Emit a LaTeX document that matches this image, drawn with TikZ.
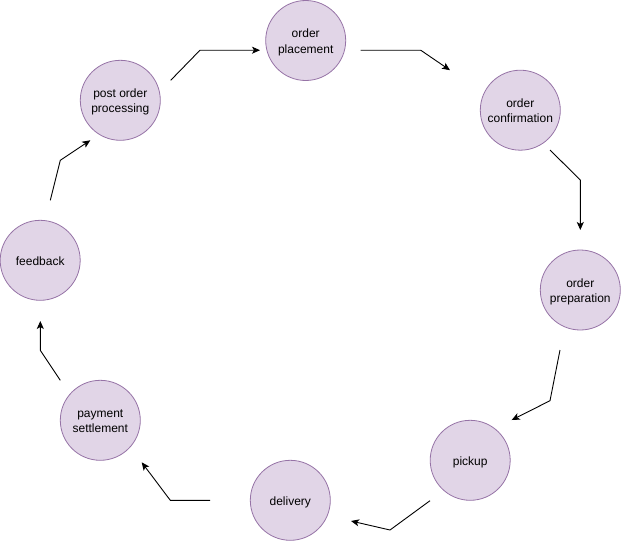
\documentclass[tikz,border=0pt]{standalone}
\usepackage{fontspec}
\setmainfont{Liberation Sans}
\usetikzlibrary{arrows.meta}
\definecolor{stepfill}{HTML}{E1D5E7}
\definecolor{stepline}{HTML}{9673A6}
% centred label, set slightly below the middle of its circle
\newcommand\stagetext[1]{\raisebox{-1.8pt}[\height][\depth]{\begin{tabular}{@{}c@{}}#1\end{tabular}}}
\begin{document}
\begin{tikzpicture}[x=1pt,y=-1pt,
  stage/.style={circle,draw=stepline,fill=stepfill,line width=0.8pt,
    minimum size=80pt,inner sep=0pt,
    font=\fontsize{12}{15.5}\selectfont},
  flow/.style={line width=0.9pt,-{Stealth[length=8pt,width=7pt,inset=2pt]}}]
\useasboundingbox (0,0) rectangle (621,541);

% process stages
\node[stage] (place)   at (305.7,40.5)  {\stagetext{order\\placement}};
\node[stage] (confirm) at (520.3,110.2) {\stagetext{order\\confirmation}};
\node[stage] (prep)    at (580.3,290)   {\stagetext{order\\preparation}};
\node[stage] (pickup)  at (470.2,460.3) {\stagetext{pickup}};
\node[stage] (deliv)   at (290.3,500.3) {\stagetext{delivery}};
\node[stage] (pay)     at (100.3,420.3) {\stagetext{payment\\settlement}};
\node[stage] (fb)      at (40.2,260.3)  {\stagetext{feedback}};
\node[stage] (post)    at (120.3,100.3) {\stagetext{post order\\processing}};

% connector end points
\coordinate (a1) at (170.7,80.3);  \coordinate (b1) at (260,50.2);
\coordinate (a2) at (360.7,50.2);  \coordinate (b2) at (450,70.2);
\coordinate (a3) at (550,150);     \coordinate (b3) at (580.3,230);
\coordinate (a4) at (560,350);     \coordinate (b4) at (511.7,420);
\coordinate (a5) at (430,500.7);   \coordinate (b5) at (351,521);
\coordinate (a6) at (210,500.3);   \coordinate (b6) at (141.7,462.3);
\coordinate (a7) at (60.3,380.3);  \coordinate (b7) at (40.3,321);
\coordinate (a8) at (50.3,200.3);  \coordinate (b8) at (90.3,140.3);

% flow arrows
\draw[flow] (a1) -- (200,50.2) -- (b1);
\draw[flow] (a2) -- (420.7,50.2) -- (b2);
\draw[flow] (a3) -- (580.3,180) -- (b3);
\draw[flow] (a4) -- (550,400.7) -- (b4);
\draw[flow] (a5) -- (390,530) -- (b5);
\draw[flow] (a6) -- (170.3,500.3) -- (b6);
\draw[flow] (a7) -- (40.3,350.3) -- (b7);
\draw[flow] (a8) -- (60.3,160.3) -- (b8);
\end{tikzpicture}
\end{document}
